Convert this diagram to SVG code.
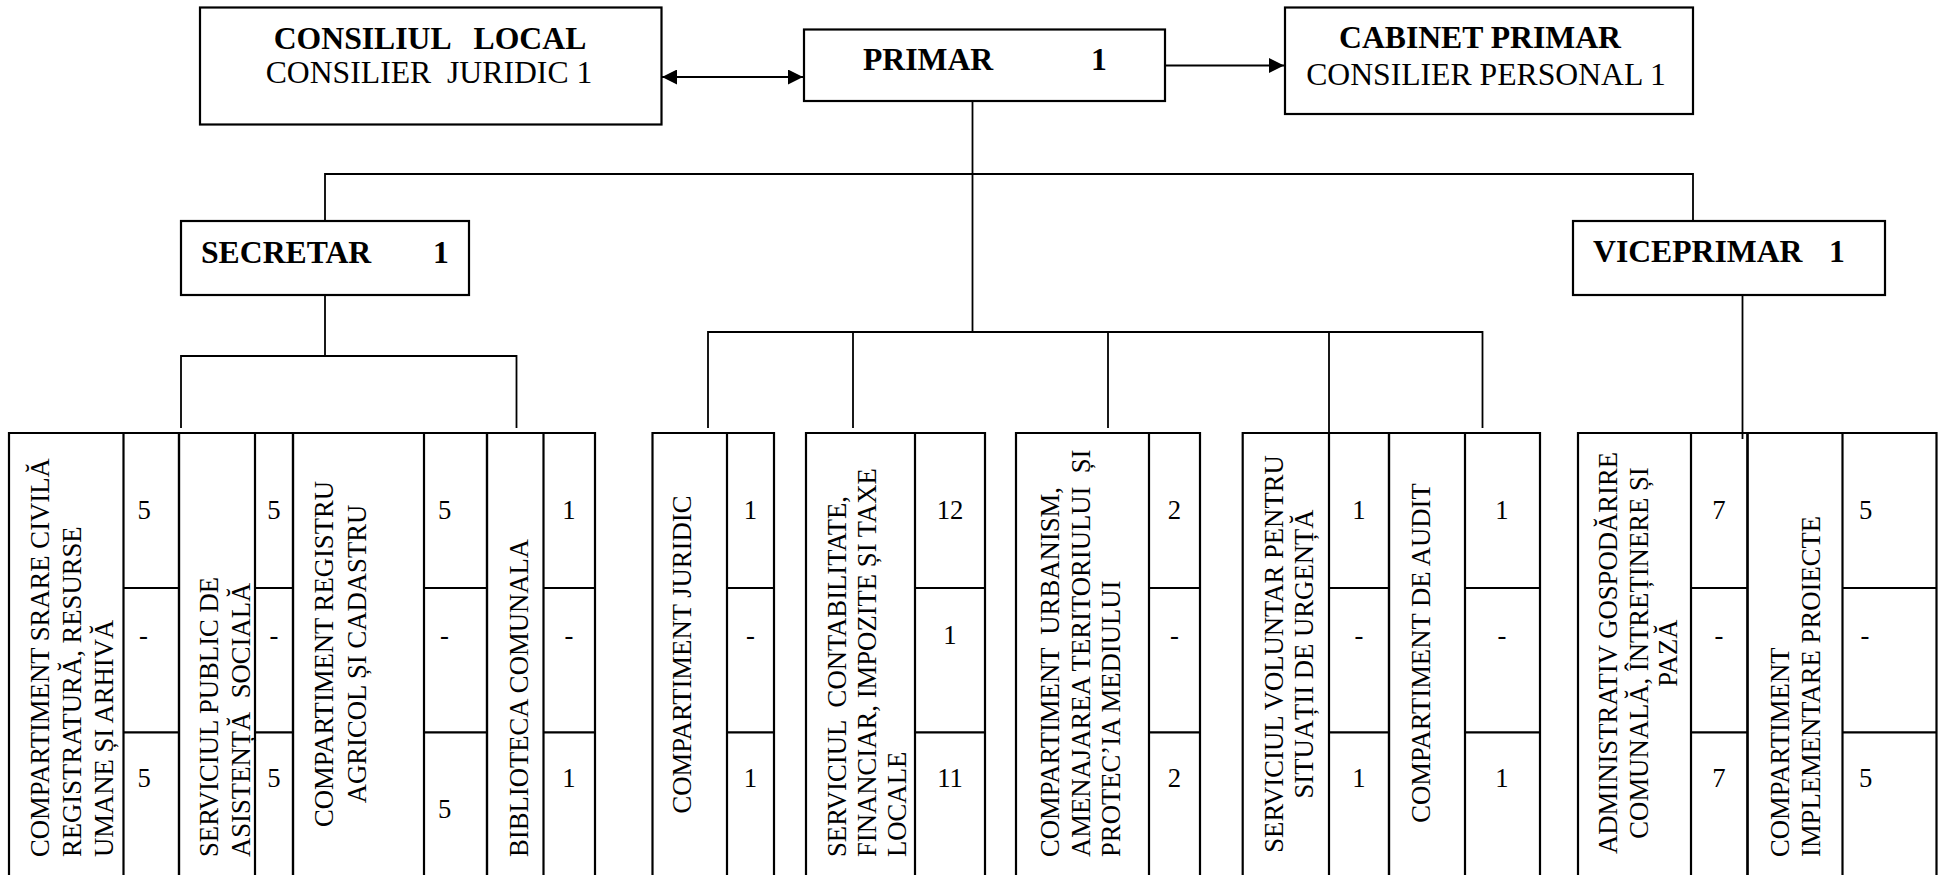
<svg xmlns="http://www.w3.org/2000/svg" width="1942" height="875" viewBox="0 0 1942 875">
<style>
.box{fill:#fff;stroke:#000;stroke-width:2.2}
.ln{stroke:#000;stroke-width:1.8;fill:none}
.tb{stroke:#000;stroke-width:2.2;fill:none}
.h{font-family:"Liberation Serif","Times New Roman",serif;font-size:31.7px;fill:#000;white-space:pre}
.b{font-weight:bold}
.t{font-family:"Liberation Serif","Times New Roman",serif;font-size:26.7px;fill:#000;white-space:pre}
.m{text-anchor:middle}
</style>
<defs>
<marker id="ah" viewBox="0 0 10 10" refX="10" refY="5" markerWidth="15" markerHeight="15" markerUnits="userSpaceOnUse" orient="auto-start-reverse">
<path d="M0,0 L10,5 L0,10 z" fill="#000"/>
</marker>
</defs>
<rect width="1942" height="875" fill="#fff"/>

<g id="connectors">
<line class="ln" x1="662" y1="77" x2="803" y2="77" marker-start="url(#ah)" marker-end="url(#ah)"/>
<line class="ln" x1="1165" y1="65.5" x2="1284" y2="65.5" marker-end="url(#ah)"/>
<polyline class="ln" points="972.5,101 972.5,332"/>
<polyline class="ln" points="325,222 325,174 1693,174 1693,223"/>
<polyline class="ln" points="325,283 325,356"/>
<polyline class="ln" points="181,428 181,356 516.5,356 516.5,428"/>
<polyline class="ln" points="708,428 708,332 1482.5,332 1482.5,428"/>
<line class="ln" x1="853" y1="332" x2="853" y2="428"/>
<line class="ln" x1="1108" y1="332" x2="1108" y2="428"/>
<line class="ln" x1="1329" y1="332" x2="1329" y2="434"/>
<line class="ln" x1="1742.5" y1="295" x2="1742.5" y2="439"/>
</g>

<g id="consiliul-local">
<rect class="box" x="200" y="7.5" width="461.5" height="117"/>
<text class="h b m" x="430" y="49.3">CONSILIUL   LOCAL</text>
<text class="h m" x="429" y="83.3">CONSILIER  JURIDIC 1</text>
</g>
<g id="primar">
<rect class="box" x="804" y="29.5" width="361" height="71.5"/>
<text class="h b" x="863" y="70">PRIMAR</text>
<text class="h b" x="1091" y="70">1</text>
</g>
<g id="cabinet-primar">
<rect class="box" x="1285" y="7.5" width="408" height="106.5"/>
<text class="h b m" x="1480" y="48.3">CABINET PRIMAR</text>
<text class="h m" x="1486" y="85">CONSILIER PERSONAL 1</text>
</g>
<g id="secretar">
<rect class="box" x="181" y="221" width="288" height="74"/>
<text class="h b" x="201" y="263.3">SECRETAR</text>
<text class="h b" x="433" y="263.3">1</text>
</g>
<g id="viceprimar">
<rect class="box" x="1573" y="221" width="312" height="74"/>
<text class="h b" x="1593" y="261.7">VICEPRIMAR</text>
<text class="h b" x="1829" y="261.7">1</text>
</g>

<!-- table 1 -->
<g id="compartiment-stare-civila">
<polyline class="tb" points="9,880 9,433 179,433 179,880"/>
<line class="tb" x1="123.5" y1="433" x2="123.5" y2="880"/>
<line class="tb" x1="123.5" y1="588" x2="179" y2="588"/>
<line class="tb" x1="123.5" y1="732.3" x2="179" y2="732.3"/>
<text class="t" transform="translate(49.4,857) rotate(-90)">COMPARTIMENT SRARE CIVILĂ</text>
<text class="t" transform="translate(81,857) rotate(-90)">REGISTRATURĂ, RESURSE</text>
<text class="t" transform="translate(112.7,857) rotate(-90)">UMANE ȘI ARHIVĂ</text>
<text class="t" x="137.5" y="519">5</text>
<text class="t" x="139" y="644">-</text>
<text class="t" x="137.5" y="787">5</text>
</g>
<g id="serviciul-asistenta-sociala">
<polyline class="tb" points="179,880 179,433 293,433 293,880"/>
<line class="tb" x1="255" y1="433" x2="255" y2="880"/>
<line class="tb" x1="255" y1="588" x2="293" y2="588"/>
<line class="tb" x1="255" y1="732.3" x2="293" y2="732.3"/>
<text class="t" transform="translate(217.5,857) rotate(-90)">SERVICIUL PUBLIC DE</text>
<text class="t" transform="translate(250,857) rotate(-90)">ASISTENȚĂ  SOCIALĂ</text>
<text class="t m" x="274" y="519">5</text>
<text class="t m" x="274" y="644">-</text>
<text class="t m" x="274" y="787">5</text>
</g>
<g id="compartiment-registru-agricol">
<polyline class="tb" points="293,880 293,433 487,433 487,880"/>
<line class="tb" x1="424" y1="433" x2="424" y2="880"/>
<line class="tb" x1="424" y1="588" x2="487" y2="588"/>
<line class="tb" x1="424" y1="732.3" x2="487" y2="732.3"/>
<text class="t m" transform="translate(333,654) rotate(-90)">COMPARTIMENT REGISTRU</text>
<text class="t m" transform="translate(365.5,654) rotate(-90)">AGRICOL ȘI CADASTRU</text>
<text class="t" x="438" y="519">5</text>
<text class="t" x="440" y="644">-</text>
<text class="t" x="438" y="818">5</text>
</g>
<g id="biblioteca-comunala">
<polyline class="tb" points="487,880 487,433 595,433 595,880"/>
<line class="tb" x1="543.5" y1="433" x2="543.5" y2="880"/>
<line class="tb" x1="543.5" y1="588" x2="595" y2="588"/>
<line class="tb" x1="543.5" y1="732.3" x2="595" y2="732.3"/>
<text class="t" transform="translate(528,857) rotate(-90)">BIBLIOTECA COMUNALA</text>
<text class="t m" x="569" y="519">1</text>
<text class="t m" x="569" y="644">-</text>
<text class="t m" x="569" y="787">1</text>
</g>

<!-- table 2 -->
<g id="compartiment-juridic">
<polyline class="tb" points="652.5,880 652.5,433 774,433 774,880"/>
<line class="tb" x1="727" y1="433" x2="727" y2="880"/>
<line class="tb" x1="727" y1="588" x2="774" y2="588"/>
<line class="tb" x1="727" y1="732.3" x2="774" y2="732.3"/>
<text class="t m" transform="translate(691,654.5) rotate(-90)">COMPARTIMENT JURIDIC</text>
<text class="t m" x="750.5" y="519">1</text>
<text class="t m" x="750.5" y="644">-</text>
<text class="t m" x="750.5" y="787">1</text>
</g>

<!-- table 3 -->
<g id="serviciul-contabilitate">
<polyline class="tb" points="806,880 806,433 985,433 985,880"/>
<line class="tb" x1="915" y1="433" x2="915" y2="880"/>
<line class="tb" x1="915" y1="588" x2="985" y2="588"/>
<line class="tb" x1="915" y1="732.3" x2="985" y2="732.3"/>
<text class="t" transform="translate(846,857) rotate(-90)">SERVICIUL  CONTABILITATE,</text>
<text class="t" transform="translate(876,857) rotate(-90)">FINANCIAR, IMPOZITE ȘI TAXE</text>
<text class="t" transform="translate(906,857) rotate(-90)">LOCALE</text>
<text class="t m" x="950" y="519">12</text>
<text class="t m" x="950" y="644">1</text>
<text class="t m" x="950" y="787">11</text>
</g>

<!-- table 4 -->
<g id="compartiment-urbanism">
<polyline class="tb" points="1016,880 1016,433 1200,433 1200,880"/>
<line class="tb" x1="1149" y1="433" x2="1149" y2="880"/>
<line class="tb" x1="1149" y1="588" x2="1200" y2="588"/>
<line class="tb" x1="1149" y1="732.3" x2="1200" y2="732.3"/>
<text class="t" transform="translate(1059,857) rotate(-90)">COMPARTIMENT  URBANISM,</text>
<text class="t" transform="translate(1090,857) rotate(-90)">AMENAJAREA TERITORIULUI  ȘI</text>
<text class="t" transform="translate(1120,857) rotate(-90)">PROTEC’IA MEDIULUI</text>
<text class="t m" x="1174.5" y="519">2</text>
<text class="t m" x="1174.5" y="644">-</text>
<text class="t m" x="1174.5" y="787">2</text>
</g>

<!-- table 5 -->
<g id="serviciul-voluntar">
<polyline class="tb" points="1242.7,880 1242.7,433 1389,433 1389,880"/>
<line class="tb" x1="1329" y1="433" x2="1329" y2="880"/>
<line class="tb" x1="1329" y1="588" x2="1389" y2="588"/>
<line class="tb" x1="1329" y1="732.3" x2="1389" y2="732.3"/>
<text class="t m" transform="translate(1283,654) rotate(-90)">SERVICIUL VOLUNTAR PENTRU</text>
<text class="t m" transform="translate(1313,654) rotate(-90)">SITUAȚII DE URGENȚĂ</text>
<text class="t m" x="1359" y="519">1</text>
<text class="t m" x="1359" y="644">-</text>
<text class="t m" x="1359" y="787">1</text>
</g>
<g id="compartiment-audit">
<polyline class="tb" points="1389,880 1389,433 1540,433 1540,880"/>
<line class="tb" x1="1465" y1="433" x2="1465" y2="880"/>
<line class="tb" x1="1465" y1="588" x2="1540" y2="588"/>
<line class="tb" x1="1465" y1="732.3" x2="1540" y2="732.3"/>
<text class="t m" transform="translate(1430,653) rotate(-90)">COMPARTIMENT DE AUDIT</text>
<text class="t m" x="1502" y="519">1</text>
<text class="t m" x="1502" y="644">-</text>
<text class="t m" x="1502" y="787">1</text>
</g>

<!-- table 6 -->
<g id="administrativ-gospodarire">
<polyline class="tb" points="1578,880 1578,433 1747.5,433 1747.5,880"/>
<line class="tb" x1="1691" y1="433" x2="1691" y2="880"/>
<line class="tb" x1="1691" y1="588" x2="1747.5" y2="588"/>
<line class="tb" x1="1691" y1="732.3" x2="1747.5" y2="732.3"/>
<text class="t m" transform="translate(1617,653) rotate(-90)">ADMINISTRATIV GOSPODĂRIRE</text>
<text class="t m" transform="translate(1647.5,653) rotate(-90)">COMUNALĂ, ÎNTREȚINERE ȘI</text>
<text class="t m" transform="translate(1677,653) rotate(-90)">PAZĂ</text>
<text class="t m" x="1719" y="519">7</text>
<text class="t m" x="1719" y="644">-</text>
<text class="t m" x="1719" y="787">7</text>
</g>
<g id="compartiment-implementare-proiecte">
<polyline class="tb" points="1747.5,880 1747.5,433 1936.5,433 1936.5,880"/>
<line class="tb" x1="1842.5" y1="433" x2="1842.5" y2="880"/>
<line class="tb" x1="1842.5" y1="588" x2="1936.5" y2="588"/>
<line class="tb" x1="1842.5" y1="732.3" x2="1936.5" y2="732.3"/>
<text class="t" transform="translate(1789,857) rotate(-90)">COMPARTIMENT</text>
<text class="t" transform="translate(1820,857) rotate(-90)">IMPLEMENTARE PROIECTE</text>
<text class="t" x="1859" y="519">5</text>
<text class="t" x="1860.5" y="644">-</text>
<text class="t" x="1859" y="787">5</text>
</g>
</svg>
